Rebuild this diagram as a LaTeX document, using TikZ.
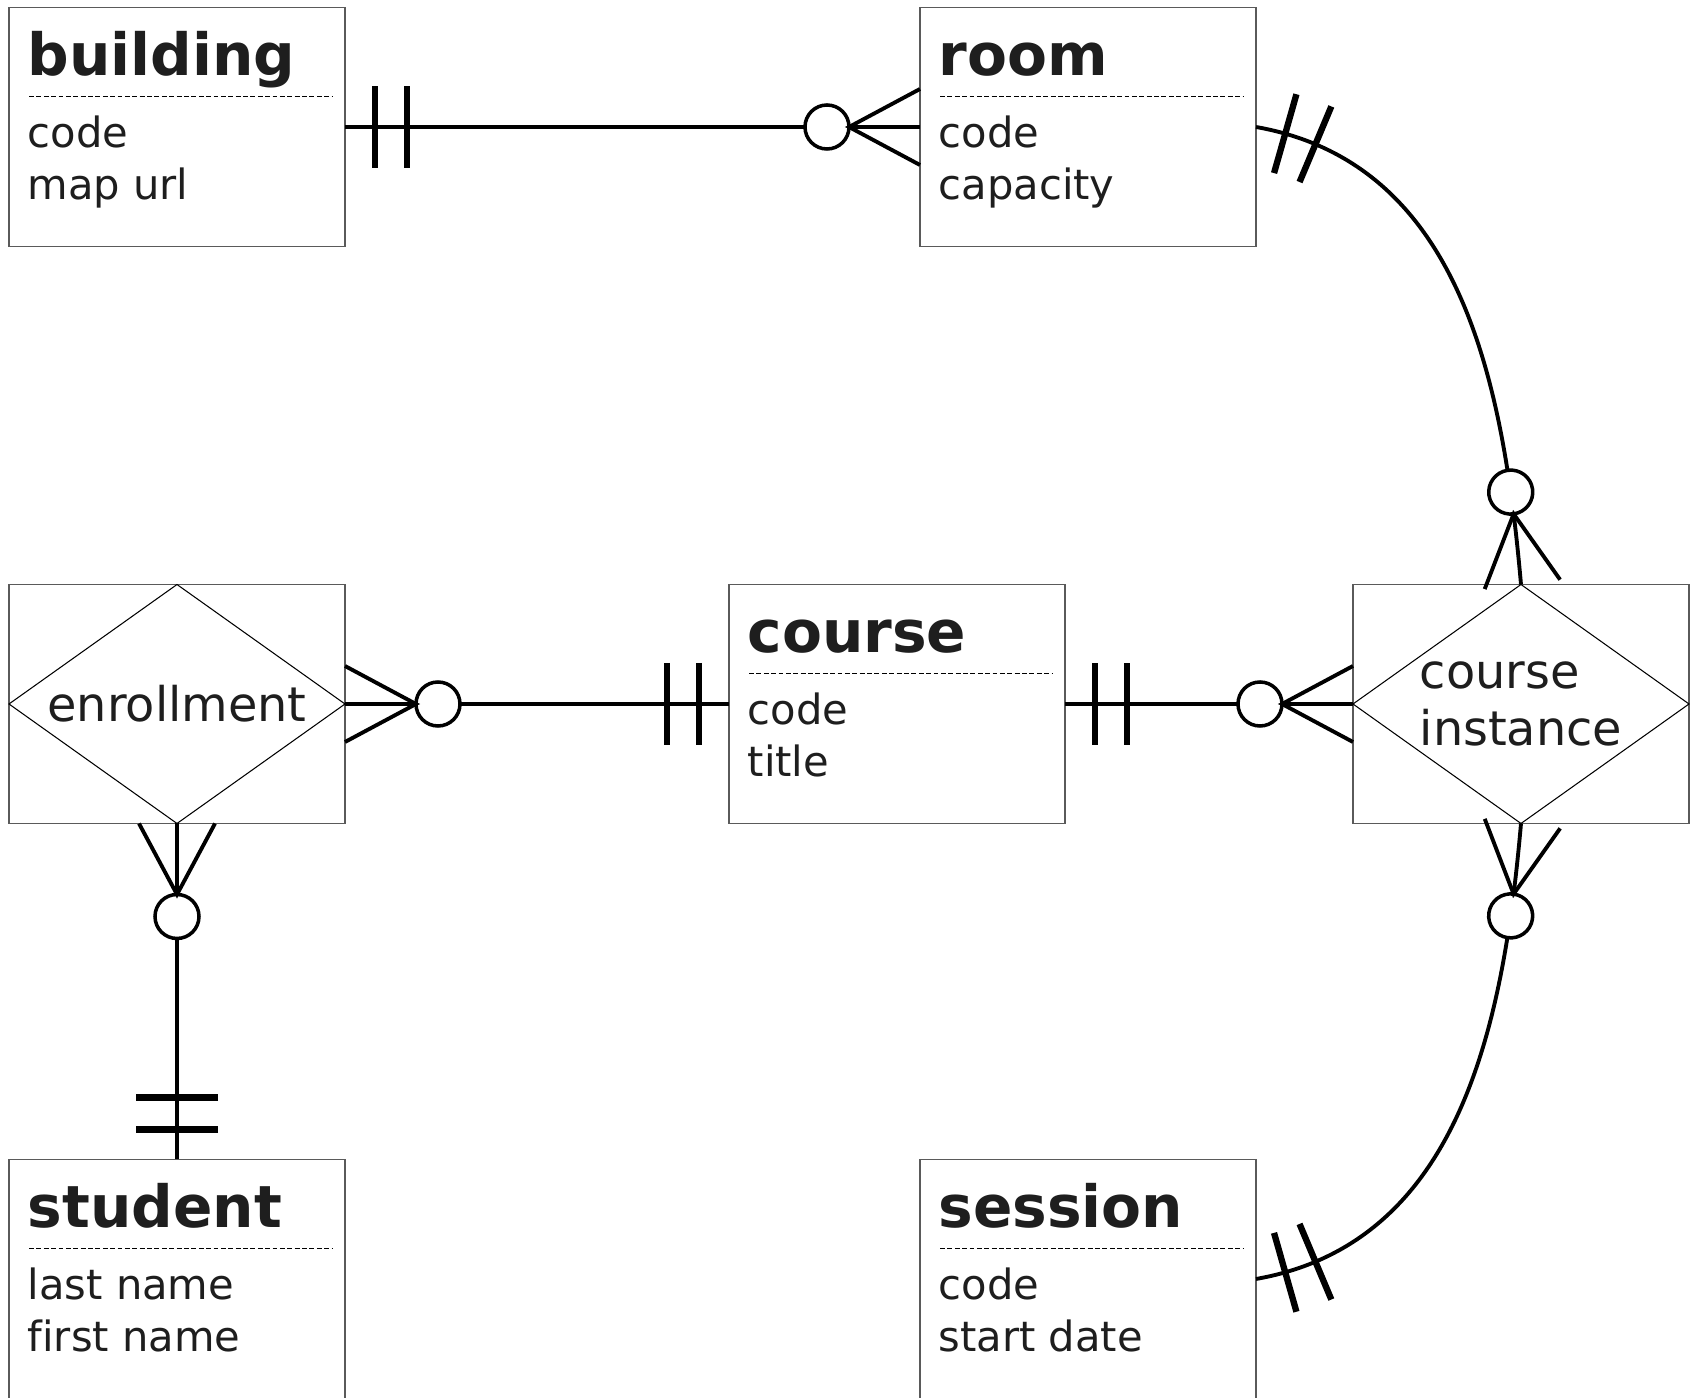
\documentclass[tikz,border=0pt]{standalone}
\usepackage{fontspec}
\setmainfont[Ligatures=NoCommon]{DejaVu Sans}
\usetikzlibrary{decorations.markings}
\definecolor{ink}{HTML}{1E1E1E}
\definecolor{frame}{HTML}{5A5A5A}
\tikzset{
    entity/.style={draw=frame, line width=0.4pt, fill=white, minimum width=3.36cm, minimum height=2.39cm, outer sep=0pt, inner sep=0pt},
    relation/.style={entity, text=ink, align=left, font=\fontsize{13.6}{16.2}\selectfont},
    enttitle/.style={anchor=base west, inner sep=0pt, text=ink, font=\fontsize{16.55}{19}\selectfont\bfseries},
    entattr/.style={anchor=base west, inner sep=0pt, text=ink, align=left, font=\fontsize{11.85}{14.7}\selectfont},
    attrline/.style={black, line width=0.5pt, dash pattern=on 1.4pt off 0.7pt},
    rhomb/.style={black, line width=0.3pt},
    onebar/.style={line width=1.8pt},
    ring/.style={line width=1pt, fill=white},
    crow/.style={line width=1.1pt},
    rel/.style={line width=1.1pt, postaction={decorate, decoration={markings,
        mark=at position 0.3cm with {\draw[onebar] (0,-0.41) -- (0,0.41);},
        mark=at position 0.62cm with {\draw[onebar] (0,-0.41) -- (0,0.41);},
        mark=at position -0.93cm with {\draw[ring] (0,0) circle (0.22);},
        mark=at position -0.71cm with {\draw[crow] (0.71,0.38) -- (0,0) -- (0.71,-0.38);}}}}
}
\begin{document}
\begin{tikzpicture}
    \useasboundingbox (0,0) rectangle (16.96,-13.98);
    % entities
    \node[entity] (building) at (1.77,-1.27) {};
    \node[entity] (room) at (10.88,-1.27) {};
    \node[entity] (course) at (8.97,-7.04) {};
    \node[entity] (student) at (1.77,-12.79) {};
    \node[entity] (session) at (10.88,-12.79) {};
    \node[enttitle] (building-title) at ([shift={(0.18,-0.68)}]building.north west) {building};
    \node[enttitle] (room-title) at ([shift={(0.18,-0.68)}]room.north west) {room};
    \node[enttitle] (course-title) at ([shift={(0.18,-0.68)}]course.north west) {course};
    \node[enttitle] (student-title) at ([shift={(0.18,-0.68)}]student.north west) {student};
    \node[enttitle] (session-title) at ([shift={(0.18,-0.68)}]session.north west) {session};
    \node[entattr] (building-attr) at ([shift={(0.18,-1.92)}]building.north west) {code\\map url};
    \node[entattr] (room-attr) at ([shift={(0.18,-1.92)}]room.north west) {code\\capacity};
    \node[entattr] (course-attr) at ([shift={(0.18,-1.92)}]course.north west) {code\\title};
    \node[entattr] (student-attr) at ([shift={(0.18,-1.92)}]student.north west) {last name\\first name};
    \node[entattr] (session-attr) at ([shift={(0.18,-1.92)}]session.north west) {code\\start date};
    \draw[attrline] ([shift={(0.2,-0.89)}]building.north west) -- ([shift={(-0.12,-0.89)}]building.north east);
    \draw[attrline] ([shift={(0.2,-0.89)}]room.north west) -- ([shift={(-0.12,-0.89)}]room.north east);
    \draw[attrline] ([shift={(0.2,-0.89)}]course.north west) -- ([shift={(-0.12,-0.89)}]course.north east);
    \draw[attrline] ([shift={(0.2,-0.89)}]student.north west) -- ([shift={(-0.12,-0.89)}]student.north east);
    \draw[attrline] ([shift={(0.2,-0.89)}]session.north west) -- ([shift={(-0.12,-0.89)}]session.north east);
    % relationships
    \node[relation] (enrollment) at (1.77,-7.04) {enrollment};
    \node[relation] (instance) at (15.21,-7.04) {course\\instance};
    \draw[rhomb] (enrollment.north) -- (enrollment.east) -- (enrollment.south) -- (enrollment.west) -- cycle;
    \draw[rhomb] (instance.north) -- (instance.east) -- (instance.south) -- (instance.west) -- cycle;
    % connectors
    \draw[rel] (building) -- (room);
    \draw[rel] (course) -- (enrollment);
    \draw[rel] (course) -- (instance);
    \draw[rel] (student) -- (enrollment);
    \draw[rel] (room.east) to[out=-10,in=95] (instance.north);
    \draw[rel] (session.east) to[out=10,in=-95] (instance.south);
\end{tikzpicture}
\end{document}
